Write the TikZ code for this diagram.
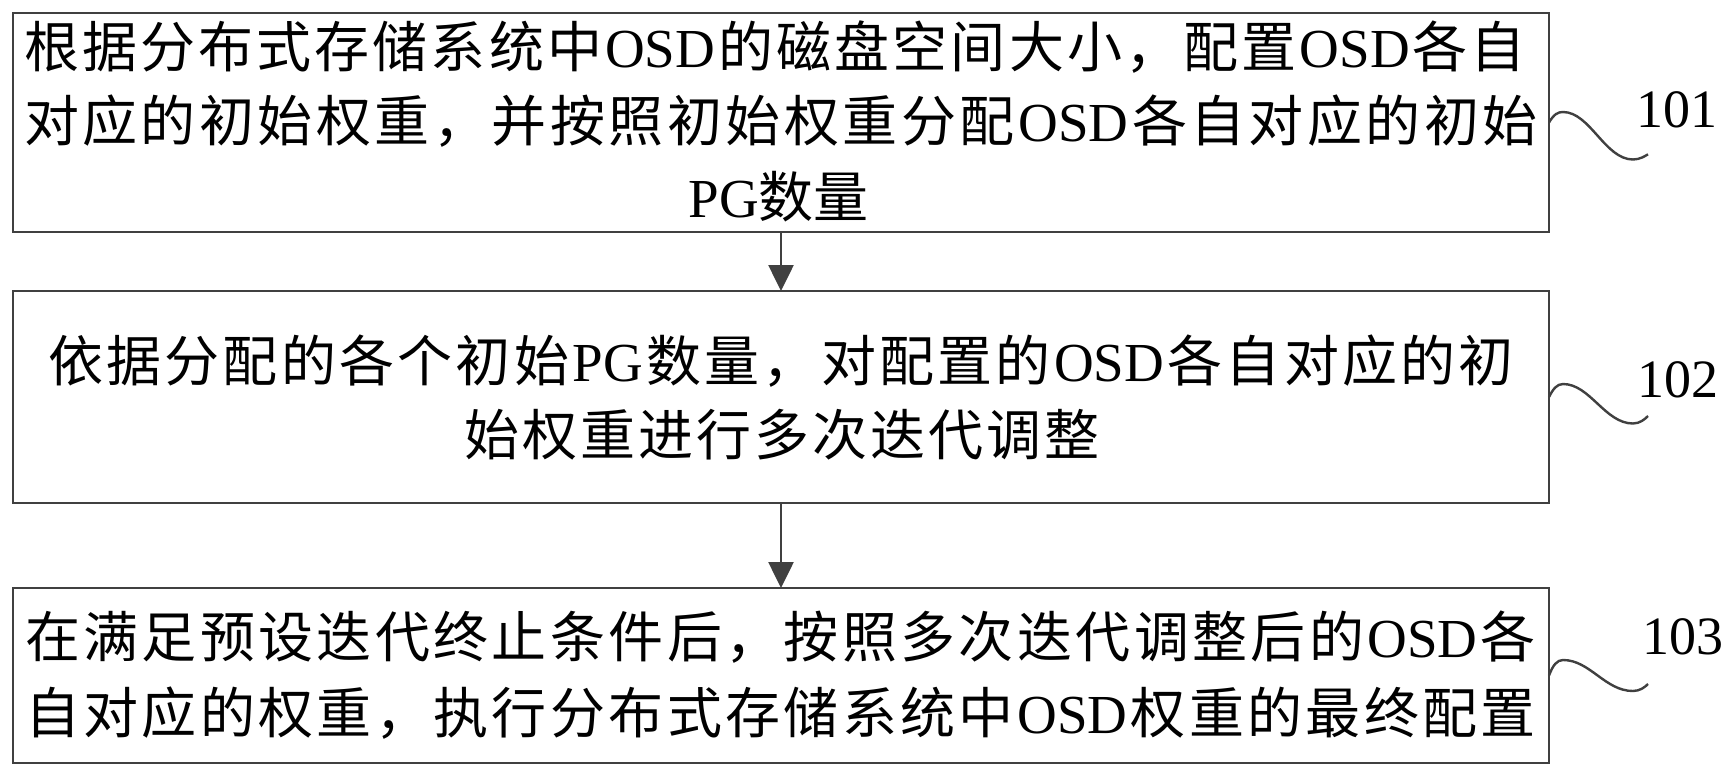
\documentclass[tikz,border=0pt]{standalone}
\usepackage{fontspec}
\setmainfont{Noto Sans CJK SC}
\newfontfamily\latf{Liberation Serif}
\usetikzlibrary{arrows.meta}
\definecolor{lc}{RGB}{64,64,64}
\newcommand\rl[1]{{\latf #1}}
\newcommand\jline[2]{\hbox to #1{\spaceskip=0pt plus 1fil\relax #2}}
\begin{document}
\begin{tikzpicture}[x=1pt,y=-1pt,
  box/.style={draw=lc, line width=2.6pt, rectangle, inner sep=0pt, outer sep=0pt, minimum width=1536pt},
  txt/.style={anchor=base, inner sep=0pt, font=\fontsize{55pt}{60pt}\selectfont},
  lbl/.style={anchor=base, inner sep=0pt, font=\latf\fontsize{54pt}{60pt}\selectfont},
  arr/.style={draw=lc, line width=2.6pt, -{Triangle[length=26pt,width=25pt]}},
  squig/.style={draw=lc, line width=2.4pt}]
\useasboundingbox (0,0) rectangle (1735,777);
\fill[white] (0,0) rectangle (1735,777);
% boxes
\node[box, minimum height=219pt] (b1) at (781,122.5) {};
\node[box, minimum height=212pt] (b2) at (781,397) {};
\node[box, minimum height=175pt] (b3) at (781,675.5) {};
% texts box 1
\node[txt] (t11) at (775,67) {\jline{1502pt}{根 据 分 布 式 存 储 系 统 中 \rl{OSD} 的 磁 盘 空 间 大 小 ， 配 置 \rl{OSD} 各 自}};
\node[txt] (t12) at (781,141) {\jline{1514pt}{对 应 的 初 始 权 重 ， 并 按 照 初 始 权 重 分 配 \rl{OSD} 各 自 对 应 的 初 始}};
\node[txt] (t13) at (778,217) {\jline{179pt}{\rl{PG} 数 量}};
% texts box 2
\node[txt] (t21) at (781,381) {\jline{1466pt}{依 据 分 配 的 各 个 初 始 \rl{PG} 数 量 ， 对 配 置 的 \rl{OSD} 各 自 对 应 的 初}};
\node[txt] (t22) at (782,455.5) {\jline{636pt}{始 权 重 进 行 多 次 迭 代 调 整}};
% texts box 3
\node[txt] (t31) at (780.5,657) {\jline{1511pt}{在 满 足 预 设 迭 代 终 止 条 件 后 ， 按 照 多 次 迭 代 调 整 后 的 \rl{OSD} 各}};
\node[txt] (t32) at (780.5,733) {\jline{1511pt}{自 对 应 的 权 重 ， 执 行 分 布 式 存 储 系 统 中 \rl{OSD} 权 重 的 最 终 配 置}};
% arrows
\draw[arr] (b1.south) -- (b2.north);
\draw[arr] (b2.south) -- (b3.north);
% squiggles and labels
\coordinate (q1) at (1648,154.3);
\coordinate (q2) at (1648,416);
\coordinate (q3) at (1648,684);
\draw[squig] (b1.east) .. controls (1554,114) and (1558,112) .. (1563,112)
  .. controls (1590,112) and (1605,159.5) .. (1633,159.5)
  .. controls (1640,159.5) and (1645,156) .. (q1);
\draw[squig] (b2.east) .. controls (1553,389) and (1557,384) .. (1563,384)
  .. controls (1590,384) and (1605,423.5) .. (1633,423.5)
  .. controls (1640,423.5) and (1645,419) .. (q2);
\draw[squig] (b3.east) .. controls (1553,665) and (1557,660) .. (1563,660)
  .. controls (1590,660) and (1605,691) .. (1633,691)
  .. controls (1640,691) and (1645,687) .. (q3);
\node[lbl] (l1) at (1677,127) {101};
\node[lbl] (l2) at (1678,397) {102};
\node[lbl] (l3) at (1683,654) {103};
\end{tikzpicture}
\end{document}
